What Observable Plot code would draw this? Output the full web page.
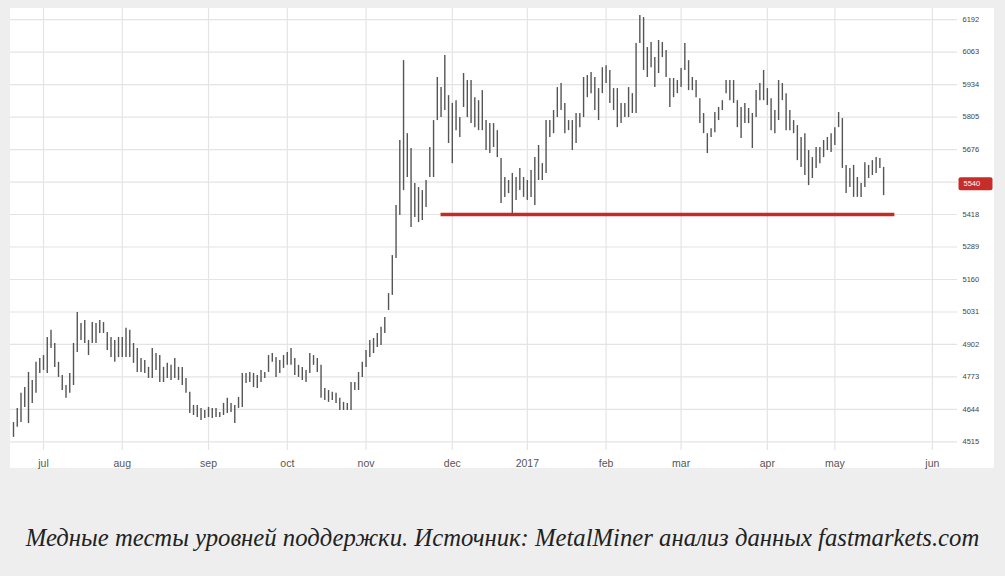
<!DOCTYPE html>
<html><head><meta charset="utf-8">
<script src="https://cdn.jsdelivr.net/npm/d3@7"></script>
<script src="https://cdn.jsdelivr.net/npm/@observablehq/plot@0.6"></script>
<style>
html,body{margin:0;padding:0;}
body{background:#eeeeee;width:1005px;height:576px;overflow:hidden;position:relative;}
#panel{position:absolute;left:10px;top:8px;width:984px;height:460px;background:#fff;}
#caption{position:absolute;left:0;top:523px;width:1005px;text-align:center;font-family:"Liberation Serif","Times New Roman",serif;font-style:italic;font-size:24.7px;line-height:30px;color:#222;white-space:nowrap;}
</style></head><body>
<div id="panel"></div>
<div id="caption">Медные тесты уровней поддержки. Источник: MetalMiner анализ данных fastmarkets.com</div>
<script>
// daily LME copper bars (trading-day index 0 = late June 2016)
const highs = [4592,4648,4708,4731,4791,4759,4831,4846,4858,4930,
 4958,4906,4831,4779,4739,4787,4906,5029,4985,4997,
 4918,4989,4985,4997,4989,4950,4930,4918,4930,4930,
 4966,4958,4906,4886,4846,4838,4811,4886,4866,4858,
 4811,4827,4819,4846,4811,4811,4767,4712,4660,4660,
 4648,4640,4652,4648,4648,4632,4668,4688,4668,4660,
 4692,4787,4787,4791,4787,4779,4799,4791,4858,4866,
 4850,4838,4858,4870,4886,4846,4819,4811,4799,4866,
 4858,4846,4819,4727,4719,4712,4708,4688,4672,4668,
 4751,4751,4791,4831,4878,4918,4926,4946,4970,5009,
 5104,5255,5454,5712,6029,5739,5680,5541,5525,5513,
 5553,5684,5791,5962,5922,6049,5890,5859,5870,5803,
 5978,5950,5950,5882,5870,5910,5791,5779,5779,5751,
 5640,5565,5553,5581,5565,5601,5565,5553,5593,5644,
 5692,5620,5791,5791,5831,5922,5938,5859,5791,5791,
 5819,5819,5962,5970,5982,5962,5918,6001,6009,5990,
 5918,5918,5859,5859,5922,5898,6097,6208,6200,6081,
 6101,6041,6109,6101,6069,5958,5958,5950,5998,6097,
 6029,5962,5950,5878,5819,5739,5759,5823,5843,5870,
 5950,5950,5950,5870,5843,5859,5839,5819,5910,5938,
 5990,5918,5878,5831,5950,5938,5898,5831,5791,5771,
 5724,5739,5672,5644,5684,5684,5712,5724,5739,5763,
 5823,5799,5613,5601,5613,5565,5541,5624,5613,5632,
 5644,5640,5605];
const lows = [4533,4573,4592,4652,4588,4668,4708,4787,4799,4787,
 4886,4811,4771,4719,4688,4708,4739,4870,4918,4906,
 4858,4906,4906,4946,4946,4878,4850,4831,4850,4850,
 4850,4850,4827,4791,4791,4787,4767,4767,4799,4751,
 4751,4767,4759,4767,4759,4739,4708,4628,4620,4612,
 4600,4608,4612,4608,4612,4612,4620,4628,4632,4588,
 4648,4652,4747,4751,4731,4727,4751,4767,4791,4831,
 4771,4787,4807,4819,4819,4779,4771,4759,4751,4787,
 4819,4791,4688,4680,4672,4680,4668,4640,4640,4640,
 4640,4719,4719,4771,4811,4850,4866,4890,4898,4946,
 5037,5097,5243,5414,5513,5565,5366,5406,5386,5394,
 5446,5565,5565,5791,5803,5831,5700,5620,5751,5724,
 5843,5803,5779,5763,5751,5751,5672,5660,5684,5644,
 5462,5486,5501,5422,5474,5513,5486,5474,5486,5454,
 5553,5553,5581,5724,5739,5803,5831,5739,5751,5672,
 5700,5763,5803,5882,5898,5831,5791,5898,5938,5859,
 5831,5763,5779,5803,5803,5819,5819,6097,5990,5962,
 6001,5922,5978,6041,5962,5843,5882,5898,5922,5990,
 5910,5910,5882,5779,5739,5660,5724,5743,5791,5831,
 5898,5870,5859,5763,5720,5779,5779,5680,5803,5870,
 5870,5851,5751,5739,5791,5870,5751,5751,5739,5632,
 5605,5573,5533,5561,5601,5620,5644,5672,5664,5692,
 5763,5601,5501,5525,5486,5486,5486,5525,5561,5573,
 5581,5601,5493];

const monthTickIndex = [8, 29, 52, 73, 94, 117, 137, 158, 178, 201, 219, 245];
const monthLabels = ["jul","aug","sep","oct","nov","dec","2017","feb","mar","apr","may","jun"];
const yTicks = [6192,6063,5934,5805,5676,5547,5418,5289,5160,5031,4902,4773,4644,4515];
const supportLevel = 5418;
const supportStart = 114;
const supportEnd = 235;
const lastPrice = 5540;

const bars = highs.map((h, i) => ({i, high: h, low: lows[i]}));
const labelOf = new Map(monthTickIndex.map((d, k) => [d, monthLabels[k]]));

const chart = Plot.plot({
  width: 984,
  height: 460,
  marginLeft: 0,
  marginRight: 37,
  marginTop: 0,
  marginBottom: 18,
  x: {domain: [-0.8, 251.7], axis: null},
  y: {domain: [4481, 6236], axis: null},
  style: {background: "transparent", fontFamily: "'Liberation Sans', Arial, sans-serif", overflow: "visible"},
  marks: [
    Plot.gridY(yTicks, {stroke: "#e4e4e4", strokeOpacity: 1, strokeWidth: 1.2}),
    Plot.gridX(monthTickIndex, {stroke: "#e4e4e4", strokeOpacity: 1, strokeWidth: 1.2}),
    Plot.axisX(monthTickIndex, {label: null, tickSize: 0, tickPadding: 9, fontSize: 10.5, fill: "#555", tickFormat: d => labelOf.get(d)}),
    Plot.axisY(yTicks, {label: null, anchor: "right", tickSize: 0, tickPadding: 5, fontSize: 7.5, fill: "#444", tickFormat: d => String(d)}),
    Plot.ruleX(bars, {x: "i", y1: "low", y2: "high", stroke: "#555", strokeWidth: 1.4}),
    Plot.ruleY([supportLevel], {x1: supportStart, x2: supportEnd, stroke: "#c22b27", strokeWidth: 3.5}),
    Plot.text([lastPrice], {y: d => d, text: d => String(d), frameAnchor: "right", textAnchor: "start", dx: 6, fill: "#fff", fontSize: 7.5, className: "lastlabel"})
  ]
});
document.getElementById("panel").appendChild(chart);

// red background box behind the last-price label
const t = chart.querySelector(".lastlabel text");
if (t) {
  const bb = t.getBBox();
  const r = document.createElementNS("http://www.w3.org/2000/svg", "rect");
  r.setAttribute("x", bb.x - 5);
  r.setAttribute("y", bb.y + bb.height / 2 - 6.5);
  r.setAttribute("width", 34);
  r.setAttribute("height", 13);
  r.setAttribute("rx", 2);
  r.setAttribute("fill", "#c62d28");
  const tr = t.getAttribute("transform");
  if (tr) r.setAttribute("transform", tr);
  t.parentNode.insertBefore(r, t);
}
</script>
</body></html>
